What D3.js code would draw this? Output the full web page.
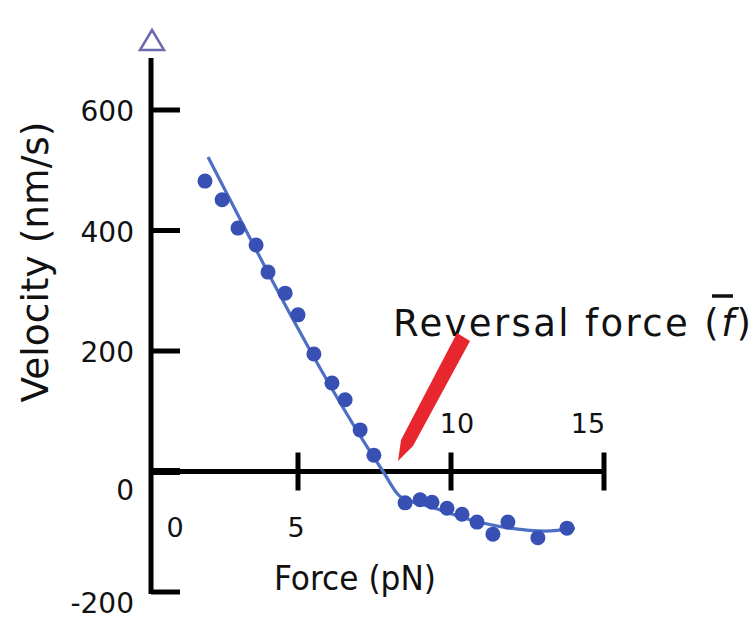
<!DOCTYPE html>
<html><head><meta charset="utf-8">
<script src="https://cdn.jsdelivr.net/npm/d3@7"></script>
<style>body{margin:0;background:#fff}svg{display:block}text{font-family:"DejaVu Sans",sans-serif;fill:#111}</style>
</head><body>
<svg id="c" width="755" height="619"></svg>
<script>
// Data
const forcePN = [1.96,2.52,3.04,3.63,4.02,4.58,5.0,5.52,6.11,6.54,7.03,7.48,8.50,8.99,9.38,9.87,10.36,10.85,11.37,11.86,12.84,13.79];
const velocity = [482,451,404,376,331,296,260,195,147,119,69,27,-52,-47,-51,-61,-71,-84,-104,-84,-110,-94];
const fitForce = [2.06,7.78,8.33,9.31,10.62,11.93,13.07,14.05];
const fitVelocity = [522,0,-41,-58,-80,-94,-99,-94];
const yTicks = [600,400,200,0,-200];
const xTicks = [5,10,15];
const xTickLabels = ["0","5","10","15"];
const xTickLabelValues = [0,5,10,15];

const svg = d3.select("#c");
const x = d3.scaleLinear().domain([0,15]).range([145,604]);
const y = d3.scaleLinear().domain([-200,600]).range([592,110]);
const ax = 151;

// Y axis
svg.append("line").attr("x1",ax).attr("x2",ax).attr("y1",58).attr("y2",y(-200)+2)
  .attr("stroke","#000").attr("stroke-width",5);
svg.selectAll(".yt").data(yTicks).join("line")
  .attr("x1",ax).attr("x2",ax+29).attr("y1",d=>y(d)).attr("y2",d=>y(d))
  .attr("stroke","#000").attr("stroke-width",d=>d===0?7:5);
svg.selectAll(".yl").data(yTicks).join("text")
  .attr("x",134).attr("y",d=>y(d)+(d===0?18:d<0?11:1)).attr("dy","0.36em")
  .attr("text-anchor","end").attr("font-size",28).text(d=>d);
// triangle
svg.append("path").attr("d",`M${ax+1},30 L${ax+13},50 L${ax-11},50 Z`)
  .attr("fill","#fff").attr("stroke","#6a6aae").attr("stroke-width",2.5);

// X axis
svg.append("line").attr("x1",ax).attr("x2",x(15)+2).attr("y1",y(0)).attr("y2",y(0))
  .attr("stroke","#000").attr("stroke-width",5);
svg.selectAll(".xt").data(xTicks).join("line")
  .attr("x1",d=>x(d)).attr("x2",d=>x(d)).attr("y1",y(0)-19).attr("y2",y(0)+19)
  .attr("stroke","#000").attr("stroke-width",5);
const xOff = {0:[30,56],5:[-2,56],10:[6,-48],15:[-16,-48]};
svg.selectAll(".xl").data(xTickLabelValues).join("text")
  .attr("x",d=>x(d)+xOff[d][0]).attr("y",d=>y(0)+xOff[d][1]).attr("dy","0.36em")
  .attr("text-anchor","middle").attr("font-size",27).text((d,i)=>xTickLabels[i]);

// titles
svg.append("text").attr("x",355).attr("y",590).attr("text-anchor","middle")
  .attr("font-size",33).attr("textLength",162).attr("lengthAdjust","spacingAndGlyphs").text("Force (pN)");
svg.append("text").attr("transform","translate(48,262) rotate(-90)").attr("text-anchor","middle")
  .attr("font-size",38).attr("textLength",281).attr("lengthAdjust","spacingAndGlyphs").text("Velocity (nm/s)");

// fit line
const line = d3.line().x(d=>x(d[0])).y(d=>y(d[1])).curve(d3.curveMonotoneX);
svg.append("path").datum(fitForce.map((f,i)=>[f,fitVelocity[i]]))
  .attr("d",line).attr("fill","none").attr("stroke","#4d6fc4").attr("stroke-width",3.2);

// points
svg.selectAll(".pt").data(forcePN.map((f,i)=>[f,velocity[i]])).join("circle")
  .attr("cx",d=>x(d[0])).attr("cy",d=>y(d[1])).attr("r",7.5).attr("fill","#3850b4");

// annotation
const ann = svg.append("text").attr("x",393).attr("y",336).attr("font-size",37)
  .attr("textLength",358).attr("lengthAdjust","spacing");
ann.append("tspan").text("Reversal force (");
ann.append("tspan").attr("font-style","italic").text("f");
ann.append("tspan").text(")");
// overbar over f
svg.append("line").attr("x1",712).attr("x2",733).attr("y1",296).attr("y2",296)
  .attr("stroke","#111").attr("stroke-width",3.5);

// red arrow
svg.append("path").attr("d","M457,333 L470,341 L413,446 L398,461 L401,440 Z")
  .attr("fill","#e8262e");
</script>
</body></html>
